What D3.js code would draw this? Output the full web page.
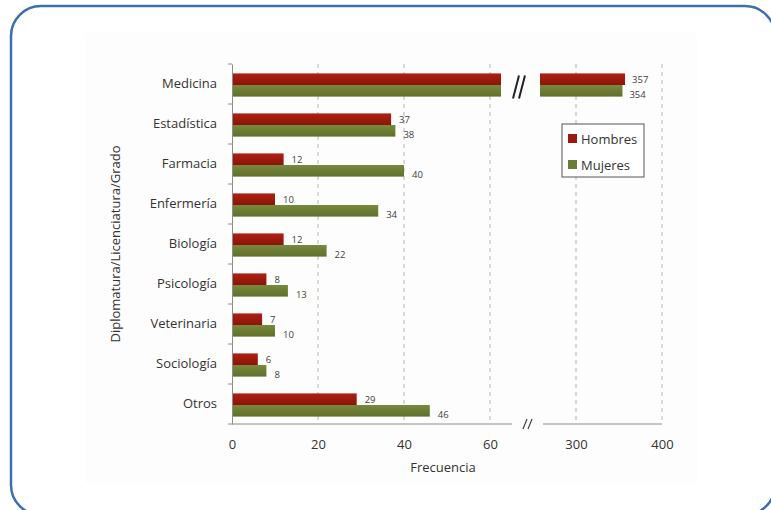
<!DOCTYPE html>
<html>
<head>
<meta charset="utf-8">
<script src="https://cdn.jsdelivr.net/npm/d3@7"></script>
<style>
  body { margin: 0; background: #fff; }
  svg { display: block; font-family: "Open Sans", "Liberation Sans", sans-serif; }
</style>
</head>
<body>
<div id="chart"></div>
<script>
const categories = ['Medicina', 'Estadística', 'Farmacia', 'Enfermería', 'Biología',
  'Psicología', 'Veterinaria', 'Sociología', 'Otros'];
const hombres = [357, 37, 12, 10, 12, 8, 7, 6, 29];
const mujeres = [354, 38, 40, 34, 22, 13, 10, 8, 46];
const series = ['Hombres', 'Mujeres'];
const leftTicks = [0, 20, 40, 60];
const rightTicks = [300, 400];

const W = 771, H = 510;
const RED = '#9c1a0d', GREEN = '#6b7d34';

const svg = d3.select('#chart').append('svg')
  .attr('width', W).attr('height', H);

// gradients, a bit like the Excel bars
const defs = svg.append('defs');
[['g-red', '#ad2212', '#8c1408'], ['g-green', '#778a3c', '#5f702c']].forEach(([id, a, b]) => {
  const g = defs.append('linearGradient').attr('id', id)
    .attr('x1', 0).attr('y1', 0).attr('x2', 0).attr('y2', 1);
  g.append('stop').attr('offset', '0%').attr('stop-color', a);
  g.append('stop').attr('offset', '100%').attr('stop-color', b);
});

// frame + chart area
svg.append('rect').attr('x', 85).attr('y', 33).attr('width', 612).attr('height', 451)
  .attr('fill', '#fdfdfd');
svg.append('rect').attr('x', 11).attr('y', 6).attr('width', 764).attr('height', 509)
  .attr('rx', 30).attr('fill', 'none').attr('stroke', '#3d6fb0').attr('stroke-width', 2.5);

// broken x scale: two linear pieces
const xl = d3.scaleLinear().domain([0, 60]).range([232, 490]);
const xr = d3.scaleLinear().domain([300, 400]).range([576, 662]);
const LEFT_END = xl.invert(501);
const RIGHT_START = xr.invert(540);
const yTop = 64, yBottom = 424;

const y = d3.scaleBand().domain(categories).range([yTop, yBottom])
  .paddingInner(0.42).paddingOuter(0.21);
const y1 = d3.scaleBand().domain(series).range([1, y.bandwidth() + 1]);

const rows = categories.map((c, i) => ({ cat: c, vals: [hombres[i], mujeres[i]] }));

// gridlines
const grid = svg.append('g');
leftTicks.slice(1).forEach(t => grid.append('line')
  .attr('x1', xl(t)).attr('x2', xl(t)).attr('y1', yTop).attr('y2', yBottom));
rightTicks.forEach(t => grid.append('line')
  .attr('x1', xr(t)).attr('x2', xr(t)).attr('y1', yTop).attr('y2', yBottom));
grid.selectAll('line').attr('stroke', '#b5b5b5').attr('stroke-dasharray', '4,4');

// bars
const fills = ['url(#g-red)', 'url(#g-green)'];
const labelShift = [0.5, 3.5];
const bars = svg.append('g');
rows.forEach(r => {
  r.vals.forEach((v, j) => {
    const yy = y(r.cat) + y1(series[j]);
    const h = y1.bandwidth();
    const ly = yy + h / 2 + labelShift[j];
    if (v <= 60) {
      bars.append('rect').attr('x', xl(0)).attr('y', yy)
        .attr('width', xl(v) - xl(0)).attr('height', h).attr('fill', fills[j]);
      bars.append('text').attr('x', xl(v) + 8).attr('y', ly)
        .attr('dy', '0.35em').text(v);
    } else {
      bars.append('rect').attr('x', xl(0)).attr('y', yy)
        .attr('width', xl(LEFT_END) - xl(0)).attr('height', h).attr('fill', fills[j]);
      bars.append('rect').attr('x', xr(RIGHT_START)).attr('y', yy)
        .attr('width', xr(v) - xr(RIGHT_START)).attr('height', h).attr('fill', fills[j]);
      bars.append('text').attr('x', xr(v) + 7).attr('y', ly)
        .attr('dy', '0.35em').text(v);
    }
  });
});
bars.selectAll('text').attr('font-size', 9.5).attr('fill', '#404040');

// break marks on the Medicina bars
const my = y(categories[0]) + 1;
[0, 6].forEach(dx => svg.append('line')
  .attr('x1', 513 + dx).attr('y1', my + y.bandwidth() + 2)
  .attr('x2', 519 + dx).attr('y2', my + 2)
  .attr('stroke', '#222').attr('stroke-width', 2));

// y axis
const yAxis = svg.append('g').attr('transform', `translate(${xl(0)},0)`)
  .call(d3.axisLeft(y).tickSize(0).tickPadding(15));
yAxis.select('.domain').attr('stroke', '#8c8c8c');
yAxis.selectAll('text').attr('font-size', 13).attr('fill', '#333')
  .attr('font-family', '"Open Sans", sans-serif');
d3.range(categories.length + 1).forEach(i => yAxis.append('line')
  .attr('x1', -4).attr('x2', 0)
  .attr('y1', yTop + i * y.step()).attr('y2', yTop + i * y.step())
  .attr('stroke', '#8c8c8c'));

// x axis, two pieces
const axL = svg.append('g').attr('transform', `translate(0,${yBottom})`)
  .call(d3.axisBottom(xl).tickValues(leftTicks).tickSize(0).tickPadding(16));
axL.select('.domain').remove();
axL.append('line').attr('x1', xl(0)).attr('x2', 512).attr('stroke', '#8c8c8c');
const axR = svg.append('g').attr('transform', `translate(0,${yBottom})`)
  .call(d3.axisBottom(xr).tickValues(rightTicks).tickSize(0).tickPadding(16));
axR.select('.domain').remove();
axR.append('line').attr('x1', 543).attr('x2', xr(400)).attr('stroke', '#8c8c8c');
[axL, axR].forEach(a => a.selectAll('text').attr('font-size', 13).attr('fill', '#333')
  .attr('font-family', '"Open Sans", sans-serif'));
[0, 5].forEach(dx => svg.append('line')
  .attr('x1', 523 + dx).attr('y1', yBottom + 5)
  .attr('x2', 527 + dx).attr('y2', yBottom - 5)
  .attr('stroke', '#444').attr('stroke-width', 1.2));

// axis titles
svg.append('text').attr('x', 443).attr('y', 472).attr('text-anchor', 'middle')
  .attr('font-size', 13).attr('fill', '#333').text('Frecuencia');
svg.append('text').attr('transform', `translate(120,${(yTop + yBottom) / 2}) rotate(-90)`)
  .attr('text-anchor', 'middle').attr('font-size', 13).attr('fill', '#333')
  .text('Diplomatura/Licenciatura/Grado');

// legend
const lg = svg.append('g').attr('transform', 'translate(562,124)');
lg.append('rect').attr('width', 82).attr('height', 53)
  .attr('fill', '#fff').attr('stroke', '#555');
series.forEach((s, i) => {
  const row = lg.append('g').attr('transform', `translate(6,${15 + i * 26})`);
  row.append('rect').attr('y', -5).attr('width', 9).attr('height', 9)
    .attr('fill', i ? GREEN : RED);
  row.append('text').attr('x', 13).attr('dy', '0.35em')
    .attr('font-size', 13).attr('fill', '#333').text(s);
});
</script>
</body>
</html>
